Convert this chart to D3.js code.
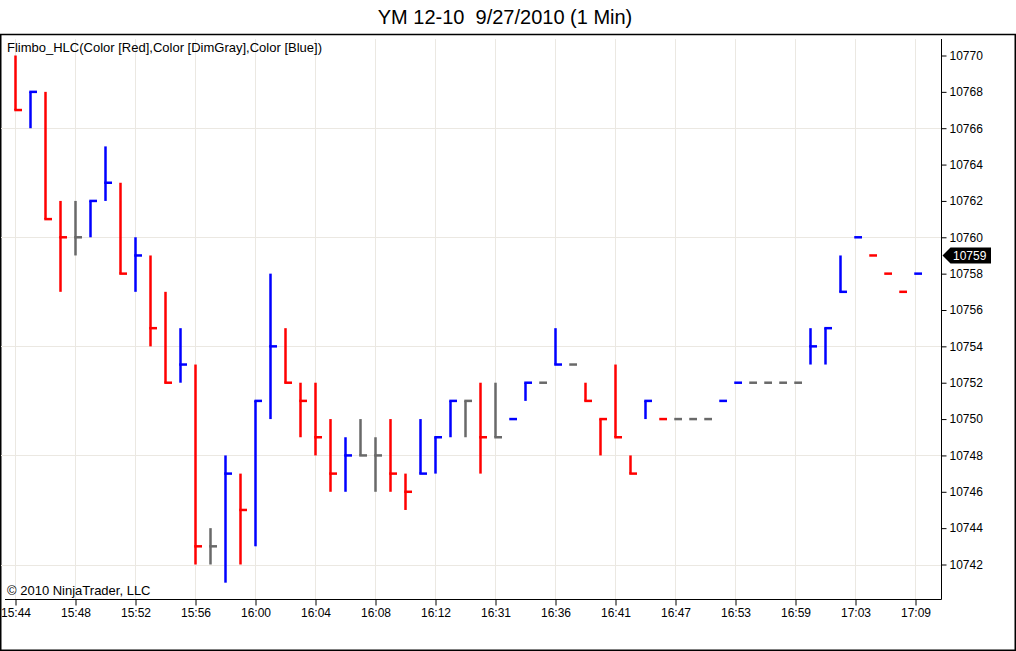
<!DOCTYPE html>
<html>
<head>
<meta charset="utf-8">
<script src="https://cdn.jsdelivr.net/npm/d3@7"></script>
<style>
    body { margin: 0; background: #fff; }
    text { font-family: "Liberation Sans", Arial, sans-serif; }
</style>
</head>
<body>
<div id="chart"></div>
<script>
(function () {

    // one entry per 1 minute bar
    const highs = [10770, 10768, 10768, 10762, 10762, 10762, 10765, 10763, 10760, 10759,
        10757, 10755, 10753, 10744, 10748, 10747, 10751, 10758, 10755, 10752,
        10752, 10750, 10749, 10750, 10749, 10750, 10747, 10750, 10749, 10751,
        10751, 10752, 10752, 10750, 10752, 10752, 10755, 10753, 10752, 10750,
        10753, 10748, 10751, 10750, 10750, 10750, 10750, 10751, 10752, 10752,
        10752, 10752, 10752, 10755, 10755, 10759, 10760, 10759, 10758, 10757, 10758]
    const lows = [10767, 10766, 10761, 10757, 10759, 10760, 10762, 10758, 10757, 10754,
        10752, 10752, 10742, 10742, 10741, 10742, 10743, 10750, 10752, 10749,
        10748, 10746, 10746, 10748, 10746, 10746, 10745, 10747, 10747, 10749,
        10749, 10747, 10749, 10750, 10751, 10752, 10753, 10753, 10751, 10748,
        10749, 10747, 10750, 10750, 10750, 10750, 10750, 10751, 10752, 10752,
        10752, 10752, 10752, 10753, 10753, 10757, 10760, 10759, 10758, 10757, 10758]
    const closes = [10767, 10768, 10761, 10760, 10760, 10762, 10763, 10758, 10759, 10755,
        10752, 10753, 10743, 10743, 10747, 10745, 10751, 10754, 10752, 10751,
        10749, 10747, 10748, 10748, 10748, 10747, 10746, 10747, 10749, 10751,
        10751, 10749, 10749, 10750, 10752, 10752, 10753, 10753, 10751, 10750,
        10749, 10747, 10751, 10750, 10750, 10750, 10750, 10751, 10752, 10752,
        10752, 10752, 10752, 10754, 10755, 10757, 10760, 10759, 10758, 10757, 10758]

    // time labels sit on every 4th bar
    const tickBars = [0, 4, 8, 12, 16, 20, 24, 28, 32, 36, 40, 44, 48, 52, 56, 60]
    const tickLabels = ["15:44", "15:48", "15:52", "15:56", "16:00", "16:04", "16:08", "16:12",
        "16:31", "16:36", "16:41", "16:47", "16:53", "16:59", "17:03", "17:09"]
    const priceTicks = [10742, 10744, 10746, 10748, 10750, 10752, 10754, 10756,
        10758, 10760, 10762, 10764, 10766, 10768, 10770]
    const gridPrices = [10742, 10748, 10754, 10760, 10766]
    const lastPrice = 10759

    const width = 1016, height = 651
    const plotRight = 941.5, plotTop = 39, plotBottom = 599.5

    const svg = d3.select("#chart")
        .append("svg")
        .attr("width", width)
        .attr("height", height)

    const x = d3.scaleLinear().domain([0, 60]).range([15.5, 915.5])
    const y = d3.scaleLinear().domain([10742, 10770]).range([564.5, 55.5])

    // title + outer frame
    svg.append("text")
        .attr("x", 505)
        .attr("y", 24)
        .attr("text-anchor", "middle")
        .attr("font-size", 20)
        .style("white-space", "pre")
        .text("YM 12-10  9/27/2010 (1 Min)")
    svg.append("rect")
        .attr("x", 0.75).attr("y", 34.5)
        .attr("width", width - 1.5).attr("height", height - 35.25)
        .attr("fill", "none")
        .attr("stroke", "#000")
        .attr("stroke-width", 1.5)

    // grid
    const grid = svg.append("g").attr("stroke", "#ebe8e2").attr("stroke-width", 1)
    grid.selectAll("line.v")
        .data(tickBars)
        .join("line")
        .attr("class", "v")
        .attr("x1", d => x(d)).attr("x2", d => x(d))
        .attr("y1", plotTop).attr("y2", plotBottom)
    grid.selectAll("line.h")
        .data(gridPrices)
        .join("line")
        .attr("class", "h")
        .attr("x1", 1).attr("x2", plotRight)
        .attr("y1", d => Math.round(y(d)) + 0.5).attr("y2", d => Math.round(y(d)) + 0.5)

    // axes
    const xAxis = svg.append("g")
        .attr("transform", "translate(0," + plotBottom + ")")
        .call(d3.axisBottom(x)
            .tickValues(tickBars)
            .tickSize(6)
            .tickPadding(3)
            .tickFormat((d, i) => tickLabels[i]))
    xAxis.select(".domain").attr("d", "M5,0H" + plotRight)
    xAxis.selectAll("text").attr("font-size", 12).attr("font-family", null).attr("fill", "#000")

    const yAxis = svg.append("g")
        .attr("transform", "translate(" + plotRight + ",0)")
        .call(d3.axisRight(y)
            .tickValues(priceTicks)
            .tickSize(5)
            .tickPadding(3)
            .tickFormat(d3.format("d")))
    yAxis.select(".domain").attr("d", "M0," + plotTop + "V" + plotBottom)
    yAxis.selectAll("text").attr("font-size", 12).attr("font-family", null).attr("fill", "#000")

    // indicator label and copyright
    svg.append("text")
        .attr("x", 7).attr("y", 52)
        .attr("font-size", 13)
        .text("Flimbo_HLC(Color [Red],Color [DimGray],Color [Blue])")
    svg.append("text")
        .attr("x", 7).attr("y", 595)
        .attr("font-size", 13)
        .text("\u00a9 2010 NinjaTrader, LLC")

    // HLC bars, coloured by close against the previous close
    const bars = closes.map((c, i) => {
        let color = "#ff0000"
        if (i > 0 && c > closes[i - 1]) color = "#0000ff"
        else if (i > 0 && c === closes[i - 1]) color = "#696969"
        return {i: i, high: highs[i], low: lows[i], close: c, color: color}
    })
    const barG = svg.append("g")
    barG.selectAll("line.hl")
        .data(bars.filter(d => d.high > d.low))
        .join("line")
        .attr("class", "hl")
        .attr("x1", d => x(d.i)).attr("x2", d => x(d.i))
        .attr("y1", d => y(d.high)).attr("y2", d => y(d.low))
        .attr("stroke", d => d.color)
        .attr("stroke-width", 2.5)
    barG.selectAll("line.c")
        .data(bars)
        .join("line")
        .attr("class", "c")
        .attr("x1", d => x(d.i) - 1.25).attr("x2", d => x(d.i) + 6.5)
        .attr("y1", d => y(d.close)).attr("y2", d => y(d.close))
        .attr("stroke", d => d.color)
        .attr("stroke-width", 2.5)

    // last price marker
    const py = y(lastPrice)
    svg.append("path")
        .attr("d", `M${plotRight + 1},${py} L${plotRight + 9},${py - 8} H991 V${py + 8} H${plotRight + 9} Z`)
        .attr("fill", "#000")
    svg.append("text")
        .attr("x", 953).attr("y", py + 4.5)
        .attr("font-size", 12)
        .attr("fill", "#fff")
        .text(lastPrice)

})()
</script>
</body>
</html>
